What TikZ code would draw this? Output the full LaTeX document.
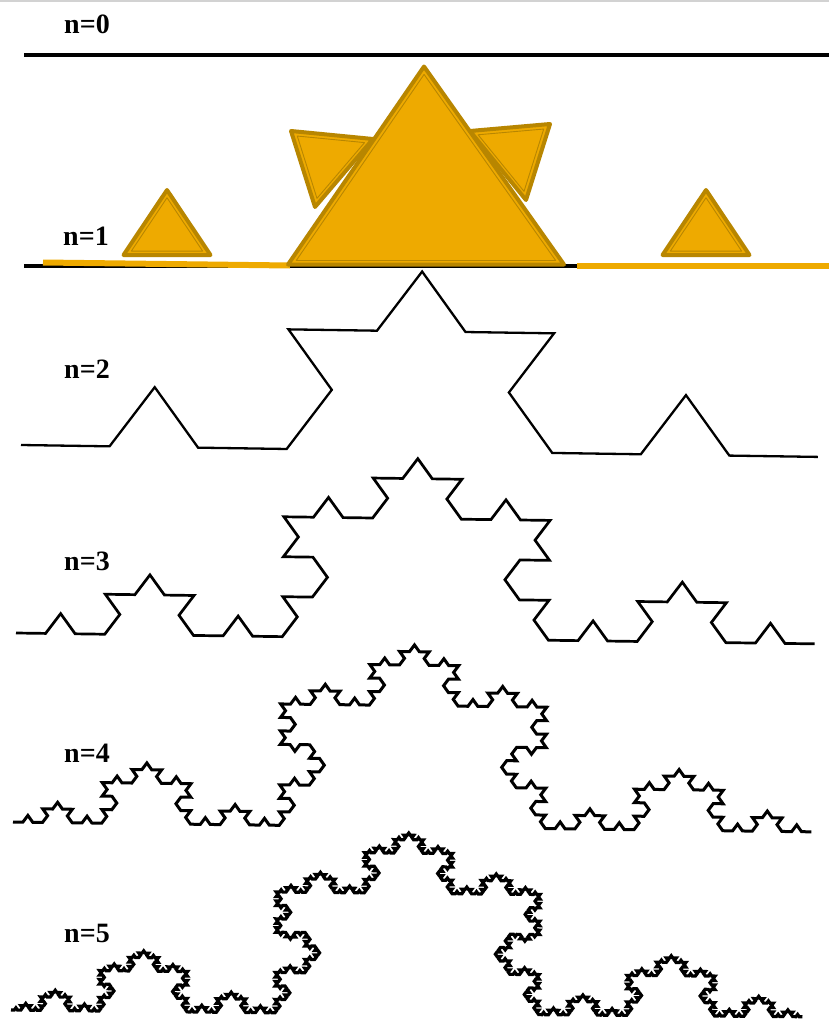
\documentclass[tikz,border=0pt]{standalone}
\usepackage{fontspec}
\newfontfamily\lblfont{Liberation Serif}
\usetikzlibrary{lindenmayersystems}
\definecolor{kgold}{RGB}{238,170,0}
\definecolor{kdark}{RGB}{184,134,0}
\pgfdeclarelindenmayersystem{KochC}{\rule{F -> F+F--F+F}}
\tikzset{
  lbl/.style={font=\lblfont\fontsize{28}{28}\selectfont\bfseries, inner sep=0pt},
  rulezero/.style={line width=4pt, black},
  kochpath/.style={black, line join=miter},
  goldtri/.style={fill=kgold, draw=kdark, line width=4pt, line join=round},
  goldinner/.style={draw=kdark, line width=0.9pt, line join=round},
  goldbar/.style={draw=kgold, line width=6pt},
}
\begin{document}
\begin{tikzpicture}[x=1pt,y=-1pt]
\useasboundingbox[fill=white] (0,0) rectangle (829,1022);
\draw[gray!35, line width=2pt] (0,1) -- (829,1);

% labels
\node[lbl] (l0) at (87,24) {n=0};
\node[lbl] (l1) at (86,236) {n=1};
\node[lbl] (l2) at (87,369) {n=2};
\node[lbl] (l3) at (87,561) {n=3};
\node[lbl] (l4) at (87,753) {n=4};
\node[lbl] (l5) at (87,933) {n=5};

% n=0
\draw[rulezero] (24,55) -- (829,55);
% n=1 base line
\draw[rulezero] (24,265.5) -- (829,265.5);

% n=2 .. n=5
\begin{scope}[shift={(21,445)}, rotate=-0.86, yscale=0.78]
  \draw[kochpath, line width=2.3pt, l-system={KochC, axiom=F, order=2, step=88.56pt, angle=60}] (0,0) lindenmayer system;
\end{scope}
\begin{scope}[shift={(16,633)}, rotate=-0.79, yscale=0.78]
  \draw[kochpath, line width=2.7pt, l-system={KochC, axiom=F, order=3, step=29.59pt, angle=60}] (0,0) lindenmayer system;
\end{scope}
\begin{scope}[shift={(13,822)}, rotate=-0.72, yscale=0.79]
  \draw[kochpath, line width=3pt, l-system={KochC, axiom=F, order=4, step=9.864pt, angle=60}] (0,0) lindenmayer system;
\end{scope}
\begin{scope}[shift={(11,1010)}, rotate=-0.65, yscale=0.795]
  \draw[kochpath, line width=3.2pt, l-system={KochC, axiom=F, order=5, step=3.263pt, angle=60}] (0,0) lindenmayer system;
\end{scope}

% orange overlay on n=1
\draw[goldbar] (43,262.5) -- (290,265.5);
\draw[goldbar] (577,266) -- (829,266);

\filldraw[goldtri] (291,131) -- (373,139) -- (315,207) -- cycle;
\draw[goldinner, scale around={0.82:(326,159)}] (291,131) -- (373,139) -- (315,207) -- cycle;
\filldraw[goldtri] (470,131) -- (550,124) -- (526,200) -- cycle;
\draw[goldinner, scale around={0.82:(515,152)}] (470,131) -- (550,124) -- (526,200) -- cycle;

\filldraw[goldtri] (288,264.5) -- (564,264.5) -- (424,66.5) -- cycle;
\draw[goldinner, scale around={0.94:(425.3,198.5)}] (288,264.5) -- (564,264.5) -- (424,66.5) -- cycle;

\filldraw[goldtri] (123.5,255) -- (210.5,255) -- (167,190) -- cycle;
\draw[goldinner, scale around={0.82:(167,233.3)}] (123.5,255) -- (210.5,255) -- (167,190) -- cycle;
\filldraw[goldtri] (662.5,255) -- (749.5,255) -- (706,190) -- cycle;
\draw[goldinner, scale around={0.82:(706,233.3)}] (662.5,255) -- (749.5,255) -- (706,190) -- cycle;
\end{tikzpicture}
\end{document}
